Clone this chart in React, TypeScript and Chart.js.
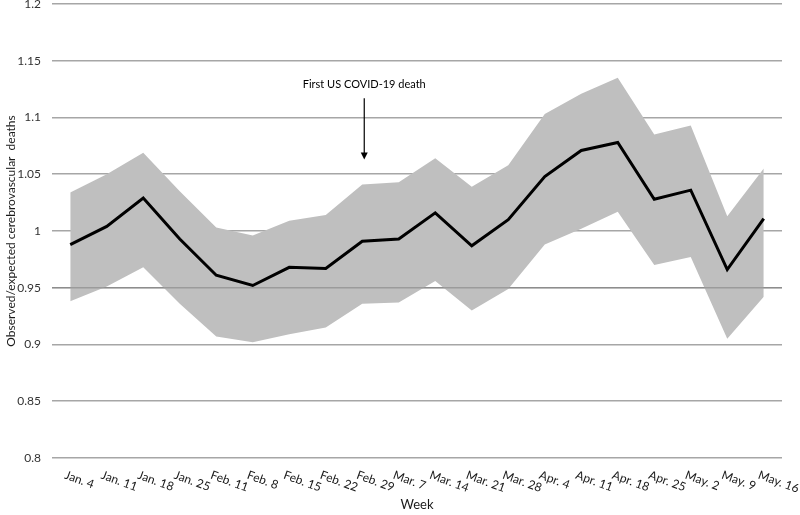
import React, { useEffect, useRef } from "react";
import { Chart, registerables } from "chart.js";

Chart.register(...registerables);

const weeks = [
  "Jan. 4", "Jan. 11", "Jan. 18", "Jan. 25", "Feb. 11", "Feb. 8", "Feb. 15", "Feb. 22", "Feb. 29", "Mar. 7",
  "Mar. 14", "Mar. 21", "Mar. 28", "Apr. 4", "Apr. 11", "Apr. 18", "Apr. 25", "May. 2", "May. 9", "May. 16",
];

const ratio = [
  0.988, 1.004, 1.029, 0.993, 0.961, 0.952, 0.968, 0.967, 0.991, 0.993,
  1.016, 0.987, 1.010, 1.048, 1.071, 1.078, 1.028, 1.036, 0.966, 1.011,
];

const upperCI = [
  1.034, 1.050, 1.069, 1.035, 1.003, 0.996, 1.009, 1.014, 1.041, 1.043,
  1.064, 1.039, 1.058, 1.103, 1.121, 1.135, 1.085, 1.093, 1.013, 1.055,
];

const lowerCI = [
  0.938, 0.951, 0.968, 0.936, 0.907, 0.902, 0.909, 0.915, 0.936, 0.937,
  0.956, 0.930, 0.949, 0.988, 1.002, 1.017, 0.970, 0.977, 0.905, 0.942,
];

const yTicks = [0.8, 0.85, 0.9, 0.95, 1, 1.05, 1.1, 1.15, 1.2];
const overlayGridValue = 0.95;

const annotationText = "First US COVID-19 death";
const annotationIndex = 8;
const annotationTextValue = 1.1295;
const annotationStartValue = 1.117;
const annotationTipValue = 1.063;

const FONT = "Lato, 'Open Sans', sans-serif";

export default function App() {
  const canvasRef = useRef<HTMLCanvasElement | null>(null);

  useEffect(() => {
    if (!canvasRef.current) return;

    const customDraw = {
      id: "customDraw",
      afterDatasetsDraw(chart: any) {
        const ctx = chart.ctx;
        const ys = chart.scales.y;
        const y = ys.getPixelForValue(overlayGridValue);
        ctx.save();
        ctx.strokeStyle = "rgba(110,110,110,0.45)";
        ctx.lineWidth = 1.6;
        ctx.beginPath();
        ctx.moveTo(chart.chartArea.left, y);
        ctx.lineTo(chart.chartArea.right, y);
        ctx.stroke();
        ctx.restore();
      },
      afterDraw(chart: any) {
        const ctx = chart.ctx;
        const xs = chart.scales.x;
        const ys = chart.scales.y;
        ctx.save();
        ctx.font = `12px ${FONT}`;
        ctx.fillStyle = "#1a1a1a";
        ctx.textAlign = "left";
        ctx.textBaseline = "top";
        weeks.forEach((w, i) => {
          const x = xs.getPixelForTick(i);
          ctx.save();
          ctx.translate(x - 3, chart.chartArea.bottom + 11);
          ctx.rotate((20 * Math.PI) / 180);
          ctx.fillText(w, 0, 0);
          ctx.restore();
        });
        const ax = xs.getPixelForValue(annotationIndex) + 2;
        ctx.font = `11px ${FONT}`;
        ctx.textAlign = "center";
        ctx.textBaseline = "middle";
        ctx.fillStyle = "#000";
        ctx.fillText(annotationText, ax, ys.getPixelForValue(annotationTextValue));
        const y0 = ys.getPixelForValue(annotationStartValue);
        const y1 = ys.getPixelForValue(annotationTipValue);
        ctx.strokeStyle = "#000";
        ctx.lineWidth = 1.2;
        ctx.beginPath();
        ctx.moveTo(ax, y0);
        ctx.lineTo(ax, y1 - 6);
        ctx.stroke();
        ctx.beginPath();
        ctx.moveTo(ax - 3.5, y1 - 7);
        ctx.lineTo(ax + 3.5, y1 - 7);
        ctx.lineTo(ax, y1);
        ctx.closePath();
        ctx.fill();
        ctx.restore();
      },
    };

    const chart = new Chart(canvasRef.current, {
      type: "line",
      data: {
        labels: weeks,
        datasets: [
          {
            label: "Observed/expected",
            data: ratio,
            borderColor: "#000",
            borderWidth: 3,
            pointRadius: 0,
            fill: false,
            tension: 0,
          },
          {
            label: "Upper",
            data: upperCI,
            borderWidth: 0,
            borderColor: "rgba(0,0,0,0)",
            backgroundColor: "#bfbfbf",
            pointRadius: 0,
            fill: "+1",
            tension: 0,
          },
          {
            label: "Lower",
            data: lowerCI,
            borderWidth: 0,
            borderColor: "rgba(0,0,0,0)",
            pointRadius: 0,
            fill: false,
            tension: 0,
          },
        ],
      },
      options: {
        responsive: false,
        animation: false,
        layout: { padding: { top: 4, right: 18, left: 0, bottom: 0 } },
        plugins: {
          legend: { display: false },
          tooltip: { enabled: false },
        },
        scales: {
          x: {
            offset: true,
            grid: { display: false },
            border: { display: false },
            ticks: { display: false },
            title: {
              display: true,
              text: "Week",
              color: "#1a1a1a",
              font: { family: FONT, size: 13 },
              padding: { top: 0, bottom: 2 },
            },
            afterFit(scale: any) {
              scale.height = 57;
              scale.paddingLeft = 0;
              scale.paddingRight = 0;
            },
          },
          y: {
            min: 0.8,
            max: 1.2,
            afterBuildTicks(scale: any) {
              scale.ticks = yTicks.map((v) => ({ value: v }));
            },
            ticks: {
              color: "#333",
              font: { family: FONT, size: 12 },
              padding: 11,
              callback: (v: any) => String(+Number(v).toFixed(2)),
            },
            grid: { color: "#a6a6a6", lineWidth: 1.6, drawTicks: false },
            border: { display: false },
            title: {
              display: true,
              text: "Observed/expected cerebrovascular  deaths",
              color: "#1a1a1a",
              font: { family: FONT, size: 12 },
              padding: { top: 4, bottom: 4 },
            },
            afterFit(scale: any) {
              scale.width = 52;
              scale.paddingTop = 0;
              scale.paddingBottom = 0;
            },
          },
        },
      },
      plugins: [customDraw],
    });

    return () => chart.destroy();
  }, []);

  return (
    <div style={{ position: "absolute", left: 0, top: 0, width: 800, height: 515, background: "#fff" }}>
      <canvas ref={canvasRef} width={800} height={515} />
    </div>
  );
}
